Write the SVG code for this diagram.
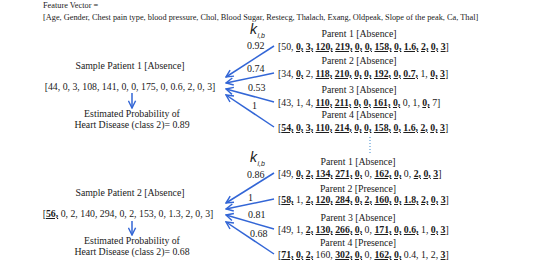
<svg xmlns="http://www.w3.org/2000/svg" width="543" height="263" viewBox="0 0 543 263">
<style>
text{font-family:"Liberation Serif","Times New Roman",serif;fill:#1a1a1a;}
.hd{font-size:8.3px;}
.t{font-size:9.8px;}
.c{text-anchor:middle;}
.b{font-weight:bold;text-decoration:underline;}
.w{font-size:10px;}
.k{font-family:"Liberation Sans",Arial,sans-serif;font-style:italic;font-size:14px;}
.ks{font-family:"Liberation Sans",Arial,sans-serif;font-style:italic;font-size:7px;}
.ln{stroke:#3366d6;stroke-width:1.5;fill:none;}
</style>
<defs>
<marker id="ah" viewBox="0 0 10 10" refX="9" refY="5" markerWidth="9" markerHeight="9" markerUnits="userSpaceOnUse" orient="auto">
<path d="M1,1 L9,5 L1,9" fill="none" stroke="#3366d6" stroke-width="1.6"/>
</marker>
</defs>
<rect width="543" height="263" fill="#ffffff"/>
<g id="header">
<text class="hd" x="43" y="8">Feature Vector =</text>
<text class="hd" x="43" y="20">[Age, Gender, Chest pain type, blood pressure, Chol, Blood Sugar, Restecg, Thalach, Exang, Oldpeak, Slope of the peak, Ca, Thal]</text>
</g>
<g id="k-top">
<text class="k" x="250" y="34">k</text><text class="ks" x="257.5" y="38">i,b</text>
</g>
<g id="k-bottom">
<text class="k" x="250" y="162">k</text><text class="ks" x="257.5" y="166">i,b</text>
</g>
<g id="patient1">
<text class="t c" x="130" y="69">Sample Patient 1 [Absence]</text>
<text class="t c" x="130" y="90">[44, 0, 3, 108, 141, 0, 0, 175, 0, 0.6, 2, 0, 3]</text>
</g>
<g id="estimate1">
<text class="t c" x="132" y="117">Estimated Probability of</text>
<text class="t c" x="132" y="128">Heart Disease (class 2)= 0.89</text>
</g>
<g id="patient2">
<text class="t c" x="130" y="196">Sample Patient 2 [Absence]</text>
<text class="t c" x="128" y="217">[<tspan class="b">56,</tspan> 0, 2, 140, 294, 0, 2, 153, 0, 1.3, 2, 0, 3]</text>
</g>
<g id="estimate2">
<text class="t c" x="132" y="244">Estimated Probability of</text>
<text class="t c" x="132" y="255">Heart Disease (class 2)= 0.68</text>
</g>
<g id="p1-parent1">
<text class="t c" x="359" y="37">Parent 1 [Absence]</text>
<text class="t" x="278" y="50">[50, <tspan class="b">0,</tspan> <tspan class="b">3,</tspan> <tspan class="b">120,</tspan> <tspan class="b">219,</tspan> <tspan class="b">0,</tspan> <tspan class="b">0,</tspan> <tspan class="b">158,</tspan> <tspan class="b">0,</tspan> <tspan class="b">1.6,</tspan> <tspan class="b">2,</tspan> <tspan class="b">0,</tspan> <tspan class="b">3</tspan>]</text>
</g>
<g id="p1-parent2">
<text class="t c" x="359" y="64">Parent 2 [Absence]</text>
<text class="t" x="278" y="77">[34, <tspan class="b">0,</tspan> 2, <tspan class="b">118,</tspan> <tspan class="b">210,</tspan> <tspan class="b">0,</tspan> <tspan class="b">0,</tspan> <tspan class="b">192,</tspan> <tspan class="b">0,</tspan> <tspan class="b">0.7,</tspan> 1, <tspan class="b">0,</tspan> <tspan class="b">3</tspan>]</text>
</g>
<g id="p1-parent3">
<text class="t c" x="359" y="93">Parent 3 [Absence]</text>
<text class="t" x="278" y="106">[43, 1, 4, <tspan class="b">110,</tspan> <tspan class="b">211,</tspan> <tspan class="b">0,</tspan> <tspan class="b">0,</tspan> <tspan class="b">161,</tspan> <tspan class="b">0,</tspan> 0, 1, <tspan class="b">0,</tspan> 7]</text>
</g>
<g id="p1-parent4">
<text class="t c" x="359" y="118">Parent 4 [Absence]</text>
<text class="t" x="278" y="131">[<tspan class="b">54,</tspan> <tspan class="b">0,</tspan> <tspan class="b">3,</tspan> <tspan class="b">110,</tspan> <tspan class="b">214,</tspan> <tspan class="b">0,</tspan> <tspan class="b">0,</tspan> <tspan class="b">158,</tspan> <tspan class="b">0,</tspan> <tspan class="b">1.6,</tspan> <tspan class="b">2,</tspan> <tspan class="b">0,</tspan> <tspan class="b">3</tspan>]</text>
</g>
<g id="p2-parent1">
<text class="t c" x="358" y="165">Parent 1 [Absence]</text>
<text class="t" x="278" y="177">[49, <tspan class="b">0,</tspan> <tspan class="b">2,</tspan> <tspan class="b">134,</tspan> <tspan class="b">271,</tspan> <tspan class="b">0,</tspan> 0, <tspan class="b">162,</tspan> <tspan class="b">0,</tspan> 0, <tspan class="b">2,</tspan> <tspan class="b">0,</tspan> <tspan class="b">3</tspan>]</text>
</g>
<g id="p2-parent2">
<text class="t c" x="358" y="192">Parent 2 [Presence]</text>
<text class="t" x="278" y="203">[<tspan class="b">58,</tspan> 1, <tspan class="b">2,</tspan> <tspan class="b">120,</tspan> <tspan class="b">284,</tspan> <tspan class="b">0,</tspan> <tspan class="b">2,</tspan> <tspan class="b">160,</tspan> <tspan class="b">0,</tspan> <tspan class="b">1.8,</tspan> <tspan class="b">2,</tspan> <tspan class="b">0,</tspan> <tspan class="b">3</tspan>]</text>
</g>
<g id="p2-parent3">
<text class="t c" x="358" y="221">Parent 3 [Absence]</text>
<text class="t" x="278" y="233">[49, 1, <tspan class="b">2,</tspan> <tspan class="b">130,</tspan> <tspan class="b">266,</tspan> <tspan class="b">0,</tspan> 0, <tspan class="b">171,</tspan> <tspan class="b">0,</tspan> <tspan class="b">0.6,</tspan> 1, <tspan class="b">0,</tspan> <tspan class="b">3</tspan>]</text>
</g>
<g id="p2-parent4">
<text class="t c" x="358" y="246">Parent 4 [Presence]</text>
<text class="t" x="278" y="258">[<tspan class="b">71,</tspan> <tspan class="b">0,</tspan> <tspan class="b">2,</tspan> 160, <tspan class="b">302,</tspan> <tspan class="b">0,</tspan> 0, <tspan class="b">162,</tspan> <tspan class="b">0,</tspan> 0.4, 1, 2, <tspan class="b">3</tspan>]</text>
</g>
<g id="connectors">
<line class="ln" x1="274" y1="46" x2="226" y2="77" marker-end="url(#ah)"/>
<line class="ln" x1="274" y1="73" x2="226" y2="83" marker-end="url(#ah)"/>
<line class="ln" x1="274" y1="102" x2="226" y2="89" marker-end="url(#ah)"/>
<line class="ln" x1="274" y1="127" x2="226" y2="95" marker-end="url(#ah)"/>
<line class="ln" x1="274" y1="173" x2="226" y2="203" marker-end="url(#ah)"/>
<line class="ln" x1="274" y1="199" x2="226" y2="209" marker-end="url(#ah)"/>
<line class="ln" x1="274" y1="229" x2="226" y2="215" marker-end="url(#ah)"/>
<line class="ln" x1="274" y1="254" x2="226" y2="222" marker-end="url(#ah)"/>
<line class="ln" x1="132" y1="93" x2="132" y2="108" marker-end="url(#ah)"/>
<line class="ln" x1="132" y1="221" x2="132" y2="235" marker-end="url(#ah)"/>
<line x1="370" y1="137" x2="370" y2="153" stroke="#5b9bd5" stroke-width="1.2" stroke-dasharray="1 2"/>
<text class="w" x="247" y="49">0.92</text>
<text class="w" x="247" y="72">0.74</text>
<text class="w" x="248" y="91">0.53</text>
<text class="w" x="252" y="109">1</text>
<text class="w" x="247" y="178">0.86</text>
<text class="w" x="248" y="201">1</text>
<text class="w" x="248" y="218">0.81</text>
<text class="w" x="250" y="237">0.68</text>
</g>
</svg>
